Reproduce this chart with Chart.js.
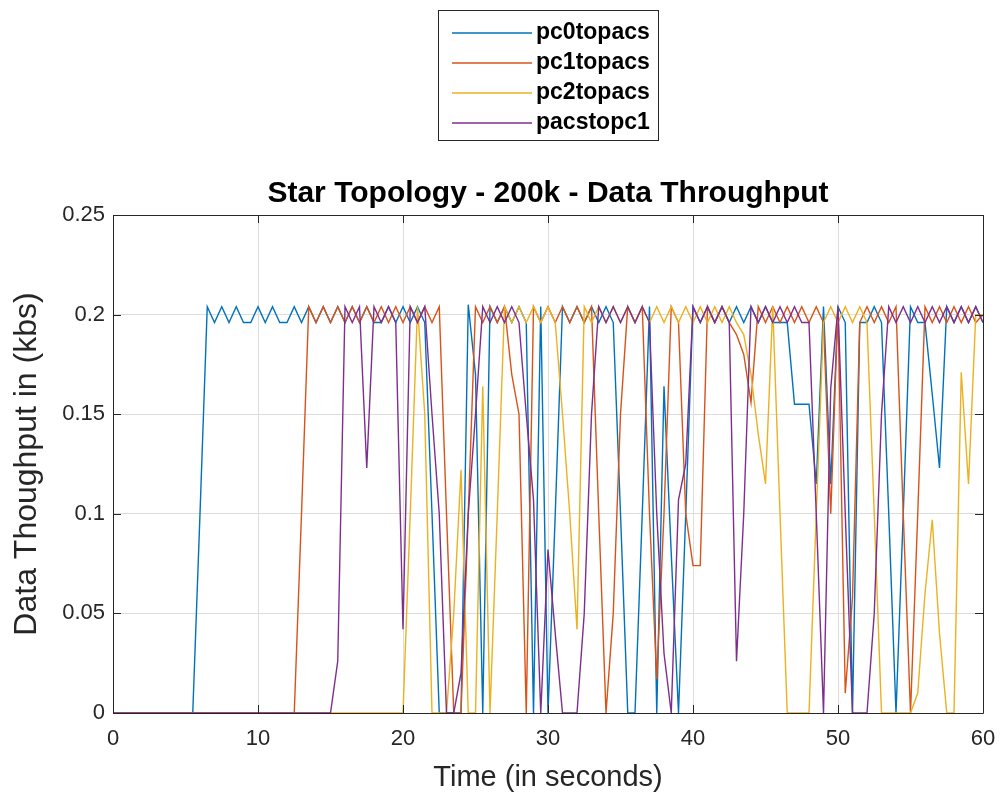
<!DOCTYPE html>
<html>
<head>
<meta charset="utf-8">
<script src="https://cdn.jsdelivr.net/npm/chart.js@4"></script>
<style>
  html, body { margin: 0; padding: 0; background: #ffffff; }
  #wrap { width: 1002px; height: 800px; }
</style>
</head>
<body>
<div id="wrap"><canvas id="c" width="1002" height="800"></canvas></div>
<script>
// Sample times (s)
const times = [
  0, 0.5, 1, 1.5, 2, 2.5, 3, 3.5, 4, 4.5, 5, 5.5, 6, 6.5, 7, 7.5, 8, 8.5, 9, 9.5,
  10, 10.5, 11, 11.5, 12, 12.5, 13, 13.5, 14, 14.5, 15, 15.5, 16, 16.5, 17, 17.5, 18, 18.5, 19, 19.5,
  20, 20.5, 21, 21.5, 22, 22.5, 23, 23.5, 24, 24.5, 25, 25.5, 26, 26.5, 27, 27.5, 28, 28.5, 29, 29.5,
  30, 30.5, 31, 31.5, 32, 32.5, 33, 33.5, 34, 34.5, 35, 35.5, 36, 36.5, 37, 37.5, 38, 38.5, 39, 39.5,
  40, 40.5, 41, 41.5, 42, 42.5, 43, 43.5, 44, 44.5, 45, 45.5, 46, 46.5, 47, 47.5, 48, 48.5, 49, 49.5,
  50, 50.5, 51, 51.5, 52, 52.5, 53, 53.5, 54, 54.5, 55, 55.5, 56, 56.5, 57, 57.5, 58, 58.5, 59, 59.5,
  60
];

// Throughput per link (kbs)
const pc0topacs = [
  0, 0, 0, 0, 0, 0, 0, 0, 0, 0, 0, 0, 0.1, 0.204, 0.196, 0.204, 0.196, 0.204, 0.196, 0.196,
  0.204, 0.196, 0.204, 0.196, 0.196, 0.204, 0.196, 0.204, 0.196, 0.204, 0.196, 0.204, 0.196, 0.204, 0.196, 0.204, 0.196, 0.196, 0.204, 0.196,
  0.204, 0.196, 0.204, 0.196, 0.1, 0, 0, 0, 0, 0.205, 0.17, 0, 0.204, 0.196, 0.204, 0.196, 0.204, 0.196, 0, 0.204,
  0, 0.1, 0.204, 0.196, 0.204, 0.196, 0.204, 0.196, 0.204, 0.196, 0.1, 0, 0, 0.1, 0.204, 0, 0.164, 0.08, 0, 0.1,
  0.204, 0.196, 0.204, 0.196, 0.204, 0.196, 0.204, 0.196, 0.204, 0.196, 0.204, 0.196, 0.196, 0.196, 0.155, 0.155, 0.155, 0.115, 0.204, 0.115,
  0.204, 0.196, 0, 0.196, 0.196, 0.204, 0.196, 0.1, 0, 0.1, 0.204, 0.196, 0.196, 0.16, 0.123, 0.204, 0.196, 0.204, 0.196, 0.204,
  0.196
];
const pc1topacs = [
  0, 0, 0, 0, 0, 0, 0, 0, 0, 0, 0, 0, 0, 0, 0, 0, 0, 0, 0, 0,
  0, 0, 0, 0, 0, 0, 0.1, 0.204, 0.196, 0.204, 0.196, 0.204, 0.196, 0.204, 0.196, 0.204, 0.196, 0.204, 0.196, 0.204,
  0.196, 0.204, 0.196, 0.204, 0.196, 0.204, 0.1, 0, 0, 0.1, 0.204, 0.196, 0.204, 0.196, 0.204, 0.17, 0.15, 0, 0.204, 0.196,
  0.204, 0.196, 0.204, 0.196, 0.204, 0.196, 0.204, 0.1, 0, 0.05, 0.15, 0.204, 0.196, 0.204, 0.1, 0.017, 0.1, 0.204, 0.196, 0.1,
  0.074, 0.074, 0.204, 0.196, 0.204, 0.196, 0.19, 0.18, 0.156, 0.204, 0.196, 0.204, 0.196, 0.204, 0.196, 0.204, 0.196, 0.204, 0.196, 0.1,
  0.204, 0.01, 0.058, 0.196, 0.204, 0.196, 0.204, 0.196, 0.204, 0.1, 0, 0.1, 0.204, 0.196, 0.204, 0.196, 0.204, 0.196, 0.204, 0.196,
  0.2
];
const pc2topacs = [
  0, 0, 0, 0, 0, 0, 0, 0, 0, 0, 0, 0, 0, 0, 0, 0, 0, 0, 0, 0,
  0, 0, 0, 0, 0, 0, 0, 0, 0, 0, 0, 0, 0, 0, 0, 0, 0, 0, 0, 0,
  0, 0.1, 0.204, 0.15, 0, 0, 0, 0.05, 0.122, 0, 0, 0.164, 0, 0.1, 0.204, 0.196, 0.204, 0.196, 0.204, 0.196,
  0.204, 0.196, 0.15, 0.1, 0.042, 0.204, 0.196, 0.204, 0.196, 0.204, 0.196, 0.204, 0.196, 0.204, 0.196, 0.204, 0.196, 0.204, 0.196, 0.204,
  0.196, 0.204, 0.196, 0.204, 0.196, 0.204, 0.196, 0.19, 0.17, 0.14, 0.115, 0.204, 0.1, 0, 0, 0, 0, 0.1, 0.196, 0.204,
  0.196, 0.204, 0.196, 0.204, 0.196, 0.1, 0, 0, 0, 0, 0, 0.01, 0.06, 0.097, 0.04, 0, 0, 0.171, 0.115, 0.2,
  0.2
];
const pacstopc1 = [
  0, 0, 0, 0, 0, 0, 0, 0, 0, 0, 0, 0, 0, 0, 0, 0, 0, 0, 0, 0,
  0, 0, 0, 0, 0, 0, 0, 0, 0, 0, 0, 0.026, 0.204, 0.196, 0.204, 0.123, 0.204, 0.196, 0.204, 0.196,
  0.042, 0.204, 0.196, 0.204, 0.15, 0.1, 0, 0, 0.02, 0.1, 0.15, 0.204, 0.196, 0.204, 0.196, 0.204, 0.196, 0.15, 0.107, 0,
  0.082, 0.04, 0, 0, 0, 0.05, 0.15, 0.204, 0.196, 0.204, 0.196, 0.204, 0.196, 0.204, 0.196, 0.1, 0.03, 0, 0.107, 0.125,
  0.204, 0.196, 0.204, 0.196, 0.204, 0.196, 0.026, 0.1, 0.204, 0.196, 0.204, 0.196, 0.204, 0.196, 0.204, 0.196, 0.196, 0.1, 0, 0.163,
  0.204, 0.1, 0, 0, 0, 0.05, 0.15, 0.204, 0.196, 0.204, 0.196, 0.204, 0.196, 0.204, 0.196, 0.204, 0.196, 0.204, 0.196, 0.204,
  0.196
];

const seriesNames = ['pc0topacs', 'pc1topacs', 'pc2topacs', 'pacstopc1'];
const seriesValues = [pc0topacs, pc1topacs, pc2topacs, pacstopc1];
const seriesColors = ['#0072BD', '#D95319', '#EDB120', '#7E2F8E'];

const xTickLabels = ['0', '10', '20', '30', '40', '50', '60'];
const yTickLabels = ['0', '0.05', '0.1', '0.15', '0.2', '0.25'];

const titleText = 'Star Topology - 200k - Data Throughput';
const xTitle = 'Time (in seconds)';
const yTitle = 'Data Thoughput in (kbs)';

const FONT = '"Liberation Sans", Arial, Helvetica, sans-serif';
const INK = '#262626';

// Axes box with inward ticks, title and boxed legend
const figureDecor = {
  id: 'figureDecor',
  afterDraw(chart) {
    const { ctx, chartArea: a, scales: { x, y } } = chart;
    ctx.save();
    ctx.strokeStyle = INK;
    ctx.lineWidth = 1;
    ctx.beginPath();
    ctx.rect(Math.round(a.left) + 0.5, Math.round(a.top) + 0.5,
             Math.round(a.right - a.left), Math.round(a.bottom - a.top));
    ctx.stroke();
    const tl = 8;
    ctx.beginPath();
    x.ticks.forEach(t => {
      const px = Math.round(x.getPixelForValue(t.value)) + 0.5;
      ctx.moveTo(px, a.bottom); ctx.lineTo(px, a.bottom - tl);
      ctx.moveTo(px, a.top); ctx.lineTo(px, a.top + tl);
    });
    y.ticks.forEach(t => {
      const py = Math.round(y.getPixelForValue(t.value)) + 0.5;
      ctx.moveTo(a.left, py); ctx.lineTo(a.left + tl, py);
      ctx.moveTo(a.right, py); ctx.lineTo(a.right - tl, py);
    });
    ctx.stroke();

    // title
    ctx.fillStyle = '#000000';
    ctx.font = 'bold 30px ' + FONT;
    ctx.textAlign = 'center';
    ctx.textBaseline = 'alphabetic';
    ctx.fillText(titleText, (a.left + a.right) / 2, 202);

    // legend
    const lx = 438, ly = 10, lw = 220, lh = 130;
    ctx.fillStyle = '#ffffff';
    ctx.fillRect(lx, ly, lw, lh);
    ctx.strokeStyle = INK;
    ctx.strokeRect(lx + 0.5, ly + 0.5, lw, lh);
    ctx.font = 'bold 23px ' + FONT;
    ctx.textAlign = 'left';
    ctx.textBaseline = 'middle';
    chart.data.datasets.forEach((ds, i) => {
      const cy = 33 + i * 30;
      ctx.strokeStyle = ds.borderColor;
      ctx.lineWidth = 1.5;
      ctx.beginPath();
      ctx.moveTo(452, cy); ctx.lineTo(532, cy);
      ctx.stroke();
      ctx.fillStyle = '#000000';
      ctx.fillText(ds.label, 536, cy);
    });
    ctx.restore();
  }
};

const datasets = seriesNames.map((name, k) => ({
  label: name,
  data: times.map((t, i) => ({ x: t, y: seriesValues[k][i] })),
  borderColor: seriesColors[k],
  borderWidth: 1.4,
  pointRadius: 0,
  tension: 0,
  fill: false,
  order: seriesNames.length - k
}));

new Chart(document.getElementById('c'), {
  type: 'line',
  data: { datasets },
  options: {
    responsive: false,
    animation: false,
    devicePixelRatio: 1,
    layout: { padding: { left: 0, right: 19, top: 215, bottom: 0 } },
    plugins: {
      legend: { display: false },
      title: { display: false },
      tooltip: { enabled: false }
    },
    scales: {
      x: {
        type: 'linear',
        min: 0, max: 60,
        ticks: {
          stepSize: 10,
          color: INK,
          font: { family: FONT, size: 22 },
          padding: 13,
          maxRotation: 0,
          callback: (v, i) => xTickLabels[i]
        },
        grid: { color: '#dddddd', drawTicks: false },
        border: { display: false },
        title: {
          display: true, text: xTitle, color: INK,
          font: { family: FONT, size: 29 },
          padding: { top: 0, bottom: 5 }
        },
        afterFit: s => { s.height = 87; s.paddingLeft = 0; s.paddingRight = 0; }
      },
      y: {
        min: 0, max: 0.25,
        ticks: {
          stepSize: 0.05,
          color: INK,
          font: { family: FONT, size: 22 },
          padding: 8,
          callback: (v, i) => yTickLabels[i]
        },
        grid: { color: '#dddddd', drawTicks: false },
        border: { display: false },
        title: {
          display: true, text: yTitle, color: INK,
          font: { family: FONT, size: 32 },
          padding: { top: 8, bottom: 0 }
        },
        afterFit: s => { s.width = 113; s.paddingTop = 0; s.paddingBottom = 0; }
      }
    }
  },
  plugins: [figureDecor]
});
</script>
</body>
</html>
